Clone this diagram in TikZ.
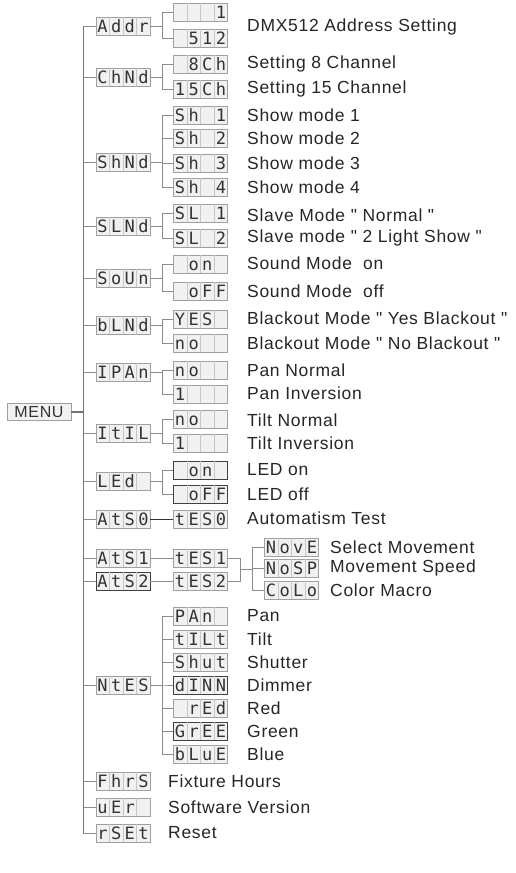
\documentclass[tikz,border=0pt]{standalone}
\usepackage{fontspec}
\setmainfont{Liberation Sans}[LetterSpace=4]
\newfontfamily\lcdfont{DejaVu Sans Mono}
\definecolor{lcdfill}{HTML}{F1F1F1}
\definecolor{lcdline}{HTML}{A0A0A0}
\definecolor{wire}{HTML}{8C8C8C}
\newcommand\lcdsep{\textcolor{lcdline!60}{\vrule height 15.2pt depth 2.8pt width 0.6pt}}
\newcommand\lcd[4]{\makebox[13pt]{#1}\lcdsep\makebox[13pt]{#2}\lcdsep\makebox[13pt]{#3}\lcdsep\makebox[13pt]{#4}}
\newcommand\qt{\textquotedbl}
\begin{document}
\begin{tikzpicture}[x=1pt,y=-1pt,
    box/.style={draw=lcdline,fill=lcdfill,line width=0.8pt,inner sep=0pt,text=black!80,font=\lcdfont\fontsize{17}{17}\selectfont},
    darkbox/.style={box,draw=black!75},
    wire/.style={draw=wire,line width=0.8pt},
    spine/.style={draw=black!55,line width=1.3pt},
    lbl/.style={anchor=west,inner sep=0pt,text=black!85,font=\fontsize{17.5}{20}\selectfont}]
\useasboundingbox (0,0) rectangle (515,873);
\node[box,font=\fontsize{16}{16}\selectfont,minimum width=64pt,minimum height=17pt] (menu) at (39,412) {MENU};
\node[box] (addr) at (123,26) {\lcd{A}{d}{d}{r}};
\node[box] (chnd) at (123,77) {\lcd{C}{h}{N}{d}};
\node[box] (shnd) at (123,162) {\lcd{S}{h}{N}{d}};
\node[box] (slnd) at (123,226) {\lcd{S}{L}{N}{d}};
\node[box] (soun) at (123,278) {\lcd{S}{o}{U}{n}};
\node[box] (blnd) at (123,325) {\lcd{b}{L}{N}{d}};
\node[box] (ipan) at (123,372) {\lcd{I}{P}{A}{n}};
\node[box] (itil) at (123,433) {\lcd{I}{t}{I}{L}};
\node[box] (led) at (123,481) {\lcd{L}{E}{d}{}};
\node[box] (ats0) at (123,519) {\lcd{A}{t}{S}{0}};
\node[box] (ats1) at (123,558) {\lcd{A}{t}{S}{1}};
\node[darkbox] (ats2) at (123,581) {\lcd{A}{t}{S}{2}};
\node[box] (ntes) at (123,685) {\lcd{N}{t}{E}{S}};
\node[box] (fhrs) at (123,781) {\lcd{F}{h}{r}{S}};
\node[box] (uer) at (123,807) {\lcd{u}{E}{r}{}};
\node[box] (rset) at (123,833) {\lcd{r}{S}{E}{t}};
\node[box] (adr1) at (200.5,12) {\lcd{}{}{}{1}};
\node[box] (adr2) at (200.5,38) {\lcd{}{5}{1}{2}};
\node[box] (ch1) at (200.5,64) {\lcd{}{8}{C}{h}};
\node[box] (ch2) at (200.5,89) {\lcd{1}{5}{C}{h}};
\foreach \i/\y in {1/115,2/138,3/163,4/187}
  \node[box] (sh\i) at (200.5,\y) {\lcd{S}{h}{}{\i}};
\foreach \i/\y in {1/213,2/238}
  \node[box] (sl\i) at (200.5,\y) {\lcd{S}{L}{}{\i}};
\node[box] (son) at (200.5,264) {\lcd{}{o}{n}{}};
\node[box] (soff) at (200.5,291) {\lcd{}{o}{F}{F}};
\node[box] (byes) at (200.5,319) {\lcd{Y}{E}{S}{}};
\node[box] (bno) at (200.5,343) {\lcd{n}{o}{}{}};
\node[box] (pno) at (200.5,370) {\lcd{n}{o}{}{}};
\node[box] (pinv) at (200.5,394) {\lcd{1}{}{}{}};
\node[box] (tno) at (200.5,419) {\lcd{n}{o}{}{}};
\node[box] (tinv) at (200.5,443) {\lcd{1}{}{}{}};
\node[darkbox] (lon) at (200.5,470) {\lcd{}{o}{n}{}};
\node[darkbox] (loff) at (200.5,494) {\lcd{}{o}{F}{F}};
\node[box] (tes0) at (200.5,519) {\lcd{t}{E}{S}{0}};
\node[box] (tes1) at (200.5,558) {\lcd{t}{E}{S}{1}};
\node[box] (tes2) at (200.5,581) {\lcd{t}{E}{S}{2}};
\node[box] (nove) at (291.5,547) {\lcd{N}{o}{v}{E}};
\node[box] (nosp) at (291.5,568) {\lcd{N}{o}{S}{P}};
\node[box] (colo) at (291.5,590) {\lcd{C}{o}{L}{o}};
\node[box] (pan) at (200.5,616) {\lcd{P}{A}{n}{}};
\node[box] (tilt) at (200.5,639) {\lcd{t}{I}{L}{t}};
\node[box] (shut) at (200.5,662) {\lcd{S}{h}{u}{t}};
\node[darkbox] (dimm) at (200.5,685) {\lcd{d}{I}{N}{N}};
\node[box] (red) at (200.5,708) {\lcd{}{r}{E}{d}};
\node[darkbox] (gree) at (200.5,731) {\lcd{G}{r}{E}{E}};
\node[box] (blue) at (200.5,754) {\lcd{b}{L}{u}{E}};
\draw[spine] (menu.east) -- ++(12,0) coordinate (spine);
\draw[spine] (spine |- addr.west) -- (spine |- rset.west);
\foreach \n in {addr,chnd,shnd,slnd,soun,blnd,ipan,itil,led,ats0,ats1,ats2,ntes,fhrs,uer,rset}
  \draw[wire] (spine |- \n.west) -- (\n.west);
\foreach \p/\c in {addr/adr1,addr/adr2,chnd/ch1,chnd/ch2,shnd/sh1,shnd/sh2,shnd/sh3,shnd/sh4,
    slnd/sl1,slnd/sl2,soun/son,soun/soff,blnd/byes,blnd/bno,ipan/pno,ipan/pinv,itil/tno,itil/tinv,
    led/lon,led/loff,ntes/pan,ntes/tilt,ntes/shut,ntes/dimm,ntes/red,ntes/gree,ntes/blue}
  \draw[wire] (\p.east) -- ++(12,0) |- (\c.west);
\draw[draw=black!80,line width=0.8pt] (ats0) -- (tes0);
\draw[wire] (ats1) -- (tes1);
\draw[wire] (ats2) -- (tes2);
\draw[wire] (tes1.east) -- ++(13,0) -- ++(0,23) -- (tes2.east);
\path (tes1.east) ++(13,11.5) coordinate (join) ++(12,0) coordinate (fork);
\draw[wire] (join) -- (fork);
\foreach \c in {nove,nosp,colo}
  \draw[wire] (fork) |- (\c.west);
\node[lbl] (taddr) at (247,27) {DMX512 Address Setting};
\node[lbl] (tch1) at (247,64) {Setting 8 Channel};
\node[lbl] (tch2) at (247,89) {Setting 15 Channel};
\foreach \i/\y in {1/115,2/138,3/163,4/187}
  \node[lbl] (tsh\i) at (247,\y) {Show mode \i};
\node[lbl] (tsl1) at (247,215) {Slave Mode \qt\ Normal \qt};
\node[lbl] (tsl2) at (247,238) {Slave mode \qt\ 2 Light Show \qt};
\node[lbl] (tson) at (247,263) {Sound Mode\ \ on};
\node[lbl] (tsoff) at (247,291) {Sound Mode\ \ off};
\node[lbl] (tbyes) at (247,318) {Blackout Mode \qt\ Yes Blackout \qt};
\node[lbl] (tbno) at (247,343) {Blackout Mode \qt\ No Blackout \qt};
\node[lbl] (tpno) at (247,370) {Pan Normal};
\node[lbl] (tpinv) at (247,393) {Pan Inversion};
\node[lbl] (ttno) at (247,420) {Tilt Normal};
\node[lbl] (ttinv) at (247,443) {Tilt Inversion};
\node[lbl] (tlon) at (247,470) {LED on};
\node[lbl] (tloff) at (247,494) {LED off};
\node[lbl] (ttes0) at (247,518) {Automatism Test};
\node[lbl] (tnove) at (330,547) {Select Movement};
\node[lbl] (tnosp) at (330,568) {Movement Speed};
\node[lbl] (tcolo) at (330,590) {Color Macro};
\node[lbl] (tpan) at (247,616) {Pan};
\node[lbl] (ttilt) at (247,639) {Tilt};
\node[lbl] (tshut) at (247,662) {Shutter};
\node[lbl] (tdimm) at (247,685) {Dimmer};
\node[lbl] (tred) at (247,708) {Red};
\node[lbl] (tgree) at (247,731) {Green};
\node[lbl] (tblue) at (247,754) {Blue};
\node[lbl] (tfhrs) at (168,781) {Fixture Hours};
\node[lbl] (tuer) at (168,807) {Software Version};
\node[lbl] (trset) at (168,833) {Reset};
\end{tikzpicture}
\end{document}
